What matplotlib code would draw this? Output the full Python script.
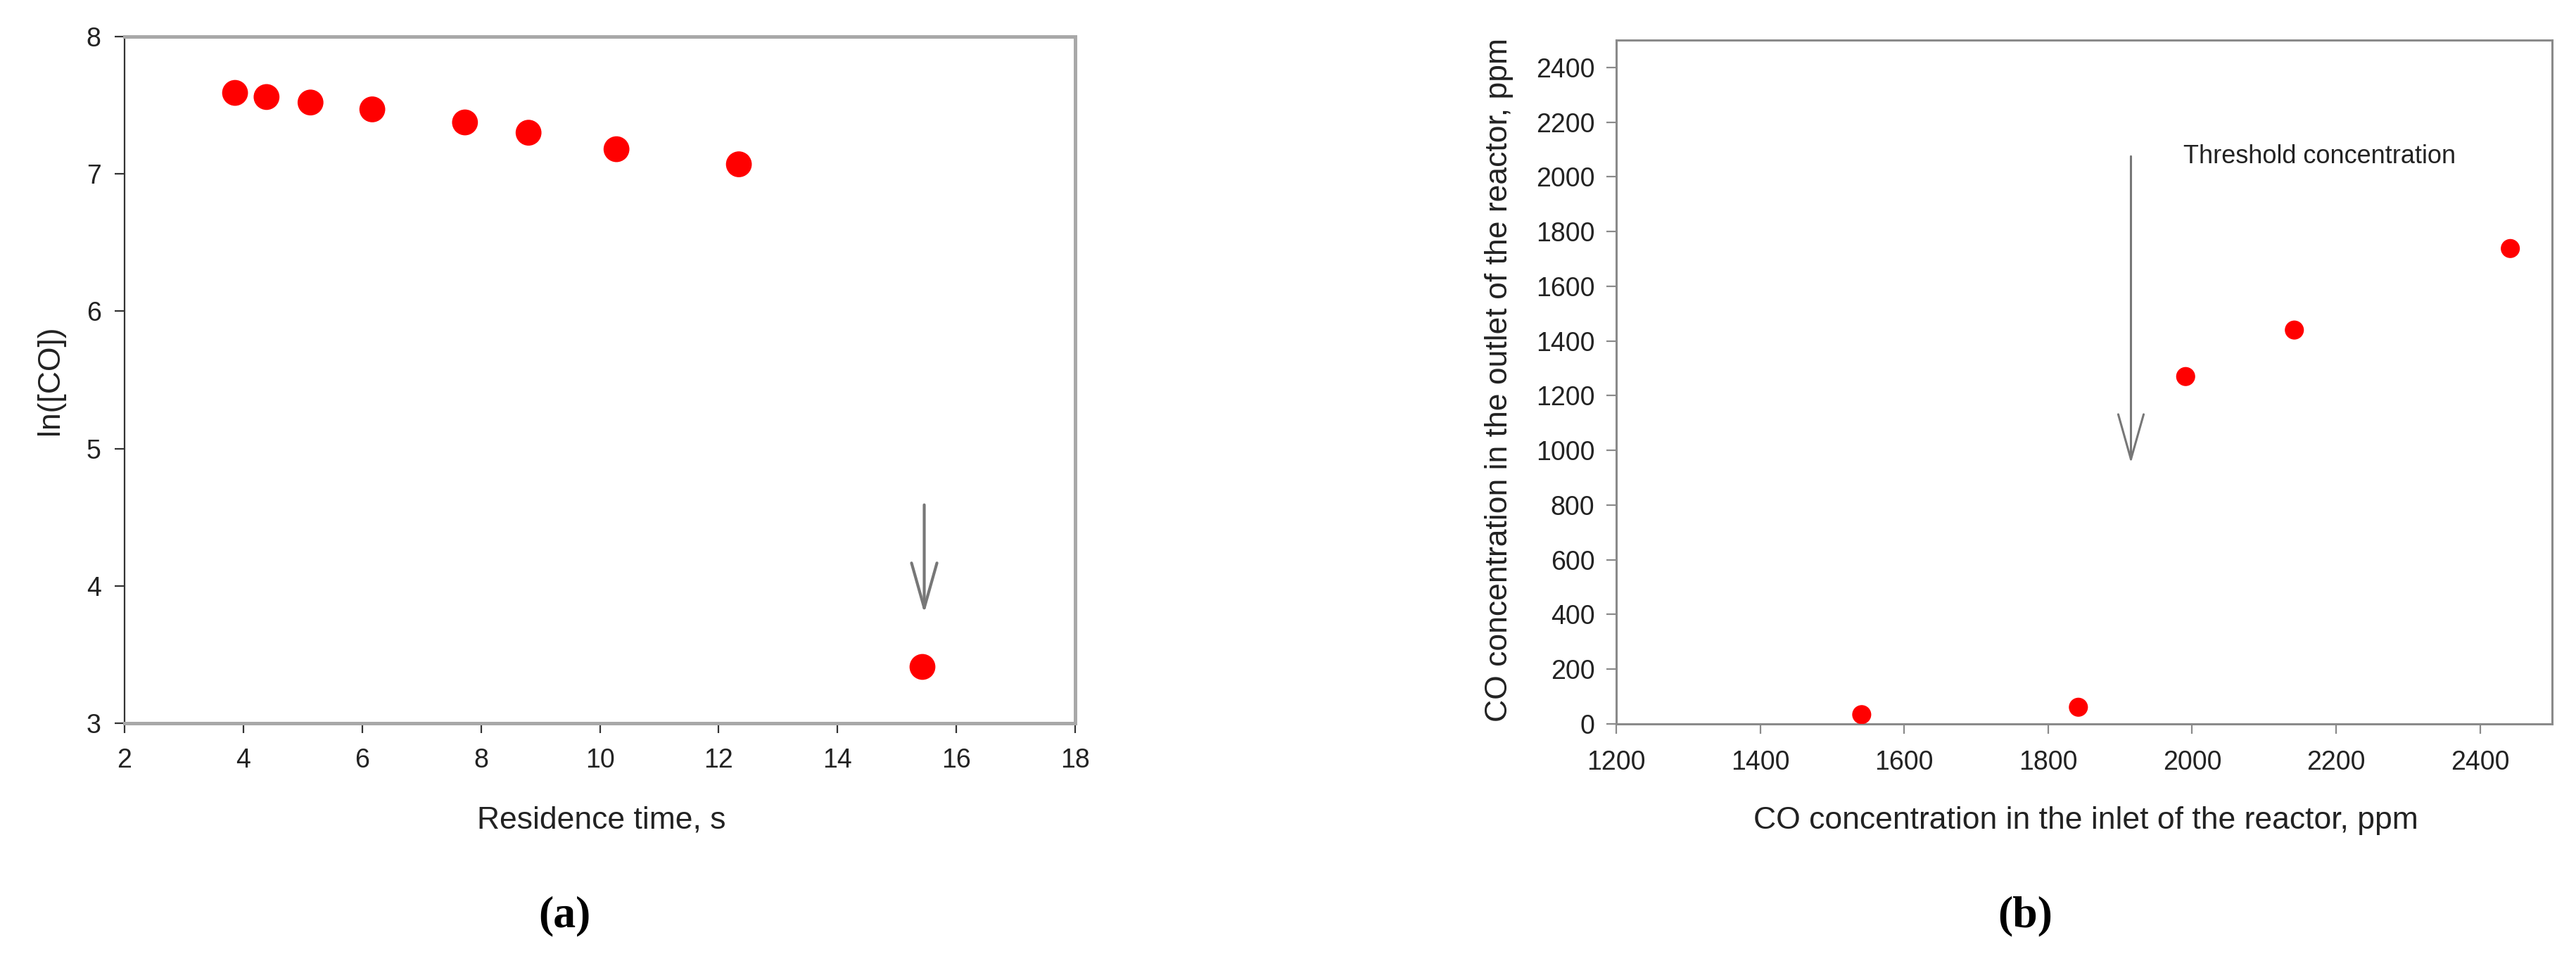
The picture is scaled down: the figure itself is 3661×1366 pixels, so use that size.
import matplotlib.pyplot as plt

plt.rcParams['font.family'] = ['Liberation Sans', 'DejaVu Sans']

# (a) residence time vs ln([CO])
res_time = [3.86, 4.39, 5.13, 6.17, 7.73, 8.80, 10.28, 12.34, 15.43]
ln_co = [7.59, 7.56, 7.52, 7.47, 7.375, 7.30, 7.18, 7.07, 3.41]
a_xticks = [2, 4, 6, 8, 10, 12, 14, 16, 18]
a_yticks = [3, 4, 5, 6, 7, 8]
a_arrow = (15.46, 4.59, 3.80)  # x, y start, y end

# (b) inlet vs outlet CO
co_in = [1541, 1842, 1991, 2142, 2442]
co_out = [34, 61, 1270, 1440, 1738]
b_xticks = [1200, 1400, 1600, 1800, 2000, 2200, 2400]
b_yticks = list(range(0, 2401, 200))
b_arrow = (1915, 2075, 953)

txt = '#222222'
fig = plt.figure(figsize=(36.61, 13.66), dpi=100)

# ---------- panel (a)
ax1 = fig.add_axes([0.04835, 0.24744, 0.36902, 0.71449])
ax1.scatter(res_time, ln_co, s=700, color='#ff0000', edgecolors='none', zorder=3)
ax1.set_xlim(2, 18)
ax1.set_ylim(3, 8)
ax1.set_xticks(a_xticks)
ax1.set_yticks(a_yticks)
for side in ['top', 'right', 'bottom']:
    ax1.spines[side].set_color('#a8a8a8')
    ax1.spines[side].set_linewidth(3.6)
ax1.spines['left'].set_color('#333333')
ax1.spines['left'].set_linewidth(1.6)
ax1.tick_params(axis='x', direction='out', length=10, width=1.6, color='#333333',
                labelsize=27, labelcolor=txt, pad=15)
ax1.tick_params(axis='y', direction='out', length=10, width=1.6, color='#333333',
                labelsize=27, labelcolor=txt, pad=14)
ax1.set_xlabel('Residence time, s', fontsize=32, color=txt)
ax1.set_ylabel('ln([CO])', fontsize=32, color=txt)
ax1.xaxis.set_label_coords(0.502, -0.141)
ax1.xaxis.label.set_va('center')
ax1.yaxis.set_label_coords(-0.078, 0.5)
ax1.yaxis.label.set_va('center')
ax1.annotate('', xy=(a_arrow[0], a_arrow[2]), xytext=(a_arrow[0], a_arrow[1]),
             arrowprops=dict(arrowstyle='->,head_length=4.6,head_width=1.3',
                             color='#777777', lw=3, shrinkA=0, shrinkB=0))

# ---------- panel (b)
ax2 = fig.add_axes([0.62742, 0.24671, 0.36329, 0.71156])
ax2.scatter(co_in, co_out, s=380, color='#ff0000', edgecolors='none', zorder=3)
ax2.set_xlim(1200, 2500)
ax2.set_ylim(0, 2500)
ax2.set_xticks(b_xticks)
ax2.set_yticks(b_yticks)
for side in ['top', 'right', 'bottom', 'left']:
    ax2.spines[side].set_color('#8a8a8a')
    ax2.spines[side].set_linewidth(2.2)
ax2.tick_params(axis='x', direction='out', length=10, width=1.6, color='#8a8a8a',
                labelsize=27, labelcolor=txt, pad=17)
ax2.tick_params(axis='y', direction='out', length=10, width=1.6, color='#8a8a8a',
                labelsize=27, labelcolor=txt, pad=12)
ax2.set_xlabel('CO concentration in the inlet of the reactor, ppm', fontsize=32, color=txt)
ax2.set_ylabel('CO concentration in the outlet of the reactor, ppm', fontsize=32, color=txt)
ax2.xaxis.set_label_coords(0.502, -0.141)
ax2.xaxis.label.set_va('center')
ax2.yaxis.set_label_coords(-0.125, 0.503)
ax2.yaxis.label.set_va('center')
ax2.annotate('', xy=(b_arrow[0], b_arrow[2]), xytext=(b_arrow[0], b_arrow[1]),
             arrowprops=dict(arrowstyle='->,head_length=4.6,head_width=1.3',
                             color='#777777', lw=2.2, shrinkA=0, shrinkB=0))
ax2.text(1988, 2075, 'Threshold concentration', fontsize=26, color=txt,
         ha='left', va='center')

# panel letters
fig.text(802 / 3661, 1 - 1302 / 1366, '(a)', fontsize=46, fontweight='bold',
         family='Liberation Serif', ha='center', va='center')
fig.text(2878 / 3661, 1 - 1302 / 1366, '(b)', fontsize=46, fontweight='bold',
         family='Liberation Serif', ha='center', va='center')

fig.savefig('out.png', dpi=100)
